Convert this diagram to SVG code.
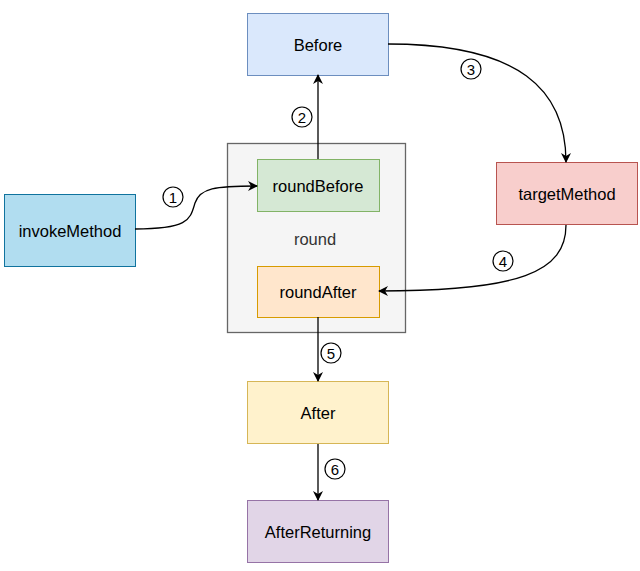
<svg xmlns="http://www.w3.org/2000/svg" width="640" height="571" viewBox="0 0 640 571">
<style>
.lbl{font-family:"Liberation Sans",Arial,sans-serif;font-size:16.5px;fill:#000;text-anchor:middle;dominant-baseline:central}
.num text{font-family:"Liberation Sans",Arial,sans-serif;font-size:15px;fill:#000;text-anchor:middle;dominant-baseline:central}
.num circle{fill:#fff;stroke:#000;stroke-width:1.2}
.edge{fill:none;stroke:#000;stroke-width:1.3;marker-end:url(#arr)}
</style>
<defs>
<marker id="arr" viewBox="0 0 10 10" refX="9" refY="5" markerWidth="10" markerHeight="10" markerUnits="userSpaceOnUse" orient="auto">
<path d="M0,0 L10,5 L0,10 L3,5 Z" fill="#000"/>
</marker>
</defs>
<rect width="640" height="571" fill="#fff"/>
<g id="round">
<rect x="227.5" y="143.5" width="178" height="189" fill="#f5f5f5" stroke="#666666" stroke-width="1.3"/>
<text class="lbl" x="315" y="239" style="fill:#333333">round</text>
</g>
<g id="before">
<rect x="247.5" y="13.5" width="141" height="62" fill="#dae8fc" stroke="#6c8ebf"/>
<text class="lbl" x="318" y="45">Before</text>
</g>
<g id="roundBefore">
<rect x="257.5" y="159.5" width="122" height="52" fill="#d5e8d4" stroke="#82b366"/>
<text class="lbl" x="318" y="186">roundBefore</text>
</g>
<g id="invokeMethod">
<rect x="4.5" y="194.5" width="131" height="72" fill="#b1ddf0" stroke="#10739e"/>
<text class="lbl" x="70" y="231">invokeMethod</text>
</g>
<g id="targetMethod">
<rect x="496.5" y="162.5" width="141" height="62" fill="#f8cecc" stroke="#b85450"/>
<text class="lbl" x="567" y="194">targetMethod</text>
</g>
<g id="roundAfter">
<rect x="257.5" y="266.5" width="122" height="51" fill="#ffe6cc" stroke="#d79b00"/>
<text class="lbl" x="318" y="292">roundAfter</text>
</g>
<g id="after">
<rect x="247.5" y="381.5" width="141" height="62" fill="#fff2cc" stroke="#d6b656"/>
<text class="lbl" x="318" y="413">After</text>
</g>
<g id="afterReturning">
<rect x="247.5" y="500.5" width="141" height="62" fill="#e1d5e7" stroke="#9673a6"/>
<text class="lbl" x="318" y="532">AfterReturning</text>
</g>
<g id="connectors">
<path class="edge" d="M135,229 C190,229 190,219 195,203 C200,188 215,186 257,186"/>
<g class="num"><circle cx="173" cy="197" r="10"/><text x="173" y="197.5">1</text></g>
<path class="edge" d="M318,159 L318,75"/>
<g class="num"><circle cx="302" cy="117" r="10"/><text x="302" y="117.5">2</text></g>
<path class="edge" d="M388,44 C520,44 566,90 566,162"/>
<g class="num"><circle cx="471" cy="69" r="10"/><text x="471" y="69.5">3</text></g>
<path class="edge" d="M566,225 C566,272 520,291 379,291"/>
<g class="num"><circle cx="503" cy="261" r="10"/><text x="503" y="261.5">4</text></g>
<path class="edge" d="M318,317 L318,381"/>
<g class="num"><circle cx="331" cy="353" r="10"/><text x="331" y="353.5">5</text></g>
<path class="edge" d="M318,444 L318,500"/>
<g class="num"><circle cx="335" cy="469" r="10"/><text x="335" y="469.5">6</text></g>
</g>
</svg>
